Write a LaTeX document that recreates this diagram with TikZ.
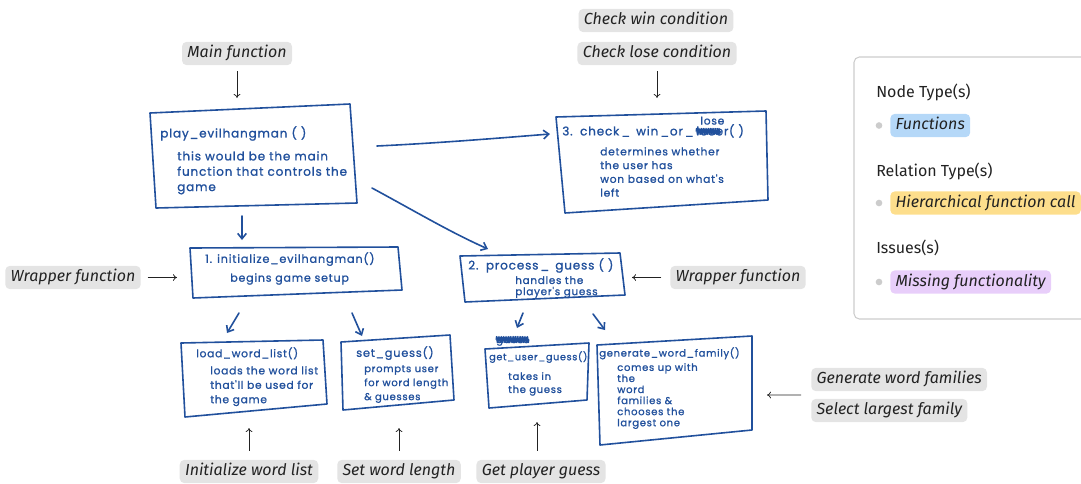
\documentclass[tikz,border=0pt]{standalone}
\usepackage{fontspec}
\setmainfont{Fira Sans}
\newfontfamily\handfont[LetterSpace=7,FakeBold=1.2]{Poppins}
\newcommand\hf[2]{\handfont\fontsize{#1}{#2}\selectfont}
\usetikzlibrary{arrows.meta,decorations.pathmorphing,calc}
\definecolor{ink}{HTML}{21509C}
\definecolor{pill}{HTML}{E4E4E4}
\definecolor{lblue}{HTML}{B5D8F8}
\definecolor{lyellow}{HTML}{FDDE8C}
\definecolor{lpurple}{HTML}{E8CEFA}
\definecolor{lborder}{HTML}{CCCCCC}
\definecolor{txt}{HTML}{222222}
\begin{document}
\begin{tikzpicture}[x=0.75pt,y=-0.75pt,
  lbl/.style={fill=pill, rounded corners=3.5pt, text=txt, font=\itshape\fontsize{12pt}{14pt}\selectfont, inner xsep=4pt, inner ysep=0pt, text height=8.7pt, text depth=2.6pt, minimum height=17.5pt},
  head/.style={text=txt, font=\fontsize{12pt}{14pt}\selectfont, anchor=west, inner sep=0pt},
  note/.style={draw=txt, line width=0.55pt, -{To[length=3pt,width=5pt]}},
  sk/.style={draw=ink, line width=1.2pt, line join=round, line cap=round},
  inkarrow/.style={draw=ink, line width=1.2pt, line cap=round, -{Straight Barb[length=4pt,width=6.5pt,line width=1.2pt]}},
  hand/.style={text=ink, font=\hf{7.5pt}{#1}, anchor=north west, inner sep=0pt, align=left},
  hand/.default=11pt,
  scribble/.style={draw=ink, line width=0.8pt, line join=round, decorate, decoration={zigzag, segment length=1.3pt, amplitude=2.3pt}},
  bullet/.style={circle, fill=lborder, inner sep=0pt, minimum size=5pt},
]
\useasboundingbox (0,0) rectangle (1081,483);

% ---------- annotation labels ----------
\node[lbl] (mainl) at (237,53.5) {Main function};
\node[lbl] (winl) at (656,20.5) {Check win condition};
\node[lbl] (losel) at (657,53.5) {Check lose condition};
\node[lbl] (wrapl) at (73,277.5) {Wrapper function};
\node[lbl] (wrapr) at (738,277.5) {Wrapper function};
\node[lbl] (initl) at (249,471.5) {Initialize word list};
\node[lbl] (setl) at (399,471.5) {Set word length};
\node[lbl] (getl) at (541,471.5) {Get player guess};
\node[lbl, anchor=west] (genl) at (811,379.5) {Generate word families};
\node[lbl, anchor=west] (sell) at (811,410.5) {Select largest family};

\coordinate (playtop) at (237,98);
\coordinate (chktop) at (657,98);
\coordinate (initleft) at (177,277.5);
\coordinate (procright) at (632,277.5);
\coordinate (loadbot) at (249,428);
\coordinate (setbot) at (399,428);
\coordinate (getbot) at (537,422);
\coordinate (genright) at (767,395);

\draw[note, shorten <=4.5pt] (mainl) -- (playtop);
\draw[note, shorten <=4.5pt] (losel) -- (chktop);
\draw[note, shorten <=5pt] (wrapl) -- (initleft);
\draw[note, shorten <=6.5pt] (wrapr) -- (procright);
\draw[note, shorten <=6.75pt] (initl) -- (loadbot);
\draw[note, shorten <=6.75pt] (setl) -- (setbot);
\draw[note, shorten <=6.75pt] (getl.north -| getbot) -- (getbot);
\draw[note, shorten <=7.5pt] ($(genl.south west)!0.5!(sell.north west)$) -- (genright);

% ---------- sketched boxes ----------
\draw[sk] (150,113) -- (350,104) -- (357,203) -- (156,208) -- cycle;
\draw[sk] (556,117) -- (766,111) -- (768,200) -- (565,213) -- cycle;
\draw[sk] (190,248) -- (398,247) -- (402,290) -- (193,298) -- cycle;
\draw[sk] (460,256) -- (620,253) -- (625,295) -- (465,302) -- cycle;
\draw[sk] (181,343) -- (323,340) -- (327,404) -- (185,417) -- cycle;
\draw[sk] (341,342) -- (450,335) -- (454,400) -- (343,410) -- cycle;
\draw[sk] (485,349) -- (589,343) -- (587,400) -- (489,408) -- cycle;
\draw[sk] (597,345) -- (752,336) -- (752,430) -- (600,445) -- cycle;

% ---------- sketched connectors ----------
\coordinate (pi1) at (242,216); \coordinate (pi2) at (242,240);
\coordinate (pc1) at (377,146); \coordinate (pc2) at (550,134);
\coordinate (pp1) at (372,188); \coordinate (pp2) at (488,249);
\coordinate (il1) at (239,313); \coordinate (il2) at (227,333);
\coordinate (is1) at (352,313); \coordinate (is2) at (362,336);
\coordinate (pg1) at (523,313); \coordinate (pg2) at (517,328);
\coordinate (pf1) at (593,314); \coordinate (pf2) at (605,330);
\draw[inkarrow] (pi1) -- (pi2);
\draw[inkarrow] (pc1) .. controls (440,143) and (500,138) .. (pc2);
\draw[inkarrow] (pp1) .. controls (420,214) and (450,232) .. (pp2);
\draw[inkarrow] (il1) -- (il2);
\draw[inkarrow] (is1) -- (is2);
\draw[inkarrow] (pg1) -- (pg2);
\draw[inkarrow] (pf1) -- (pf2);

% ---------- handwritten texts ----------
\node[hand, font=\hf{9pt}{12pt}] (playt) at (160,126) {play\_evilhangman ( )};
\node[hand, font=\hf{9pt}{11.5pt}] (playb) at (177,151) {this would be the main\\function that controls the\\game};

\node[hand, font=\hf{9pt}{12pt}] (chkt) at (562,126) {3.\, check\,\_\, win\,\_or\,\_\,};
\node[hand, font=\hf{9pt}{12pt}, anchor=base west] (chkx) at (chkt.base east) {loser};
\node[hand, font=\hf{9pt}{12pt}, anchor=base west] (chkp) at (chkx.base east) {( )};
\draw[scribble] ([yshift=3pt]chkx.base west) -- ([yshift=3pt,xshift=-6pt]chkx.base east);
\node[hand, font=\hf{8pt}{10pt}, anchor=south] (lose) at ([yshift=1pt]chkx.north) {lose};
\node[hand, font=\hf{8pt}{10.3pt}] (chkb) at (600,147) {determines whether\\the user has\\won based on what's\\left};

\node[hand, font=\hf{8.5pt}{11pt}] (initt) at (205,252) {1. initialize\_evilhangman()};
\node[hand, font=\hf{8.3pt}{11pt}] (initb) at (230,273) {begins game setup};

\node[hand, font=\hf{9pt}{12pt}] (proct) at (468,258) {2.\, process\,\_\, guess ( )};
\node[hand, font=\hf{7.8pt}{8.4pt}] (procb) at (515,276) {handles the\\player's guess};

\node[hand, font=\hf{8pt}{10pt}] (loadt) at (196,347) {load\_word\_list()};
\node[hand, font=\hf{8pt}{10.8pt}] (loadb) at (210,366) {loads the word list\\that'll be used for\\the game};

\node[hand, font=\hf{8.5pt}{10pt}] (sett) at (356,346) {set\_guess()};
\node[hand=10.5pt] (setb) at (364,365) {prompts user\\for word length\\\& guesses};

\node[hand, anchor=south west] (gsx) at (496,346) {guess};
\draw[scribble] ([yshift=2.6pt]gsx.base west) -- ([yshift=2.6pt]gsx.base east);
\node[hand, font=\hf{7.2pt}{10pt}] (gett) at (489,351) {get\_user\_guess()};
\node[hand=9.8pt] (getb) at (508,372) {takes in\\the guess};

\node[hand] (gent) at (599,347) {generate\_word\_family()};
\node[hand=8.3pt] (genb) at (617,363) {comes up with\\the\\word\\families \&\\chooses the\\largest one};

% ---------- legend ----------
\draw[lborder, line width=0.8pt, rounded corners=4pt] (854,57) rectangle (1100,319);
\node[head] (nt) at (876,92) {Node Type(s)};
\node[bullet] (b1) at (879,125.5) {};
\node[lbl, anchor=west, fill=lblue] (p1) at (890,125.5) {Functions};
\node[head] (rt) at (876,171) {Relation Type(s)};
\node[bullet] (b2) at (879,203) {};
\node[lbl, anchor=west, fill=lyellow] (p2) at (890,203) {Hierarchical function call};
\node[head] (it) at (876,248) {Issues(s)};
\node[bullet] (b3) at (879,282) {};
\node[lbl, anchor=west, fill=lpurple] (p3) at (890,282) {Missing functionality};
\end{tikzpicture}
\end{document}
